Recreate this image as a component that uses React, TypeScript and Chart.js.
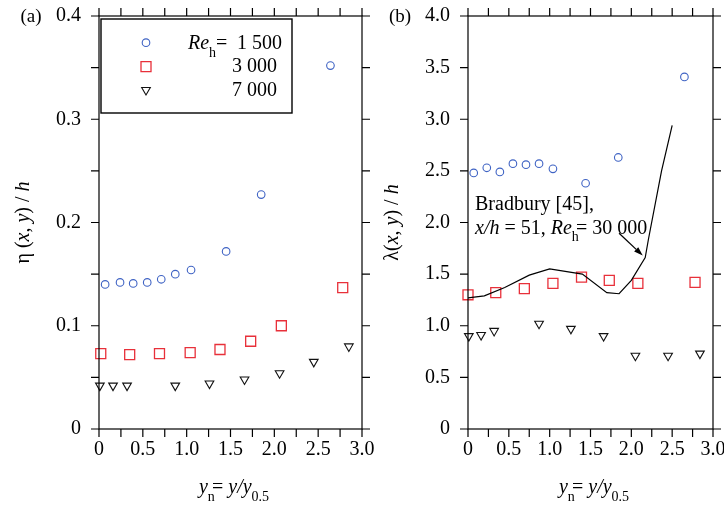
import React, { useEffect, useRef } from 'react';
import { Chart, registerables } from 'chart.js';

Chart.register(...registerables);

const FONT = "'Liberation Serif', 'Times New Roman', Times, serif";
const W = 724;
const H = 510;

// ---- tick labels ----
const xTickLabels = ['0', '0.5', '1.0', '1.5', '2.0', '2.5', '3.0'];
const etaTickLabels = ['0', '0.1', '0.2', '0.3', '0.4'];
const lambdaTickLabels = ['0', '0.5', '1.0', '1.5', '2.0', '2.5', '3.0', '3.5', '4.0'];

// ---- legend ----
const legendValues = ['1 500', '3 000', '7 000'];

// ---- panel (a): eta(x,y)/h ----
const etaRe1500X = [0.07, 0.24, 0.39, 0.55, 0.71, 0.87, 1.05, 1.45, 1.85, 2.64];
const etaRe1500Y = [0.140, 0.142, 0.141, 0.142, 0.145, 0.150, 0.154, 0.172, 0.227, 0.352];
const etaRe3000X = [0.02, 0.35, 0.69, 1.04, 1.38, 1.73, 2.08, 2.78];
const etaRe3000Y = [0.073, 0.072, 0.073, 0.074, 0.077, 0.085, 0.100, 0.137];
const etaRe7000X = [0.01, 0.16, 0.32, 0.87, 1.26, 1.66, 2.06, 2.45, 2.85];
const etaRe7000Y = [0.042, 0.042, 0.042, 0.042, 0.044, 0.048, 0.054, 0.065, 0.080];

// ---- panel (b): lambda(x,y)/h ----
const lamRe1500X = [0.07, 0.23, 0.39, 0.55, 0.71, 0.87, 1.04, 1.44, 1.84, 2.65];
const lamRe1500Y = [2.48, 2.53, 2.49, 2.57, 2.56, 2.57, 2.52, 2.38, 2.63, 3.41];
const lamRe3000X = [0.0, 0.34, 0.69, 1.04, 1.39, 1.73, 2.08, 2.78];
const lamRe3000Y = [1.30, 1.32, 1.36, 1.41, 1.47, 1.44, 1.41, 1.42];
const lamRe7000X = [0.01, 0.16, 0.32, 0.87, 1.26, 1.66, 2.05, 2.45, 2.84];
const lamRe7000Y = [0.90, 0.91, 0.95, 1.02, 0.97, 0.90, 0.71, 0.71, 0.73];
const bradburyX = [0, 0.2, 0.45, 0.75, 1.0, 1.4, 1.7, 1.85, 2.0, 2.17, 2.21, 2.37, 2.5];
const bradburyY = [1.27, 1.29, 1.37, 1.49, 1.55, 1.50, 1.32, 1.31, 1.44, 1.66, 1.84, 2.50, 2.94];

const BLUE = '#3f63c4';
const RED = '#e8303a';
const BLACK = '#111111';

type Seg = { t: string; it?: boolean; sub?: boolean; full?: boolean };

function segFont(s: Seg, size: number) {
  const sz = s.sub ? Math.round(size * 0.7) : size;
  return `${s.it ? 'italic ' : ''}${sz}px ${FONT}`;
}

function drawSegs(ctx: any, segs: Seg[], x: number, y: number, size: number, align: 'left' | 'center' | 'right') {
  const adv = (s: Seg) => {
    ctx.font = segFont(s, size);
    const w = ctx.measureText(s.t).width;
    return s.sub && !s.full ? w * 0.6 : w;
  };
  let total = 0;
  segs.forEach((s) => (total += adv(s)));
  let cx = align === 'center' ? x - total / 2 : align === 'right' ? x - total : x;
  ctx.textAlign = 'left';
  ctx.textBaseline = 'alphabetic';
  segs.forEach((s) => {
    ctx.font = segFont(s, size);
    ctx.fillText(s.t, cx, s.sub ? y + size * 0.38 : y);
    cx += adv(s);
  });
}

function drawMarker(ctx: any, style: string, x: number, y: number, color: string) {
  ctx.save();
  ctx.strokeStyle = color;
  ctx.beginPath();
  if (style === 'circle') {
    ctx.lineWidth = 1.1;
    ctx.arc(x, y, 3.8, 0, Math.PI * 2);
  } else if (style === 'rect') {
    ctx.lineWidth = 1.3;
    ctx.rect(x - 5, y - 5, 10, 10);
  } else {
    ctx.lineWidth = 1.1;
    const r = 5;
    ctx.moveTo(x, y + r);
    ctx.lineTo(x - r * 0.866, y - r / 2);
    ctx.lineTo(x + r * 0.866, y - r / 2);
    ctx.closePath();
  }
  ctx.stroke();
  ctx.restore();
}

const zip = (xs: number[], ys: number[]) => xs.map((x, i) => ({ x, y: ys[i] }));

const circleDs = (xs: number[], ys: number[]) => ({
  data: zip(xs, ys), pointStyle: 'circle', pointRadius: 3.8, pointBorderWidth: 1.1,
  borderColor: BLUE, pointBorderColor: BLUE, backgroundColor: 'rgba(0,0,0,0)', pointBackgroundColor: 'rgba(0,0,0,0)',
  showLine: false, clip: false,
});
const squareDs = (xs: number[], ys: number[]) => ({
  data: zip(xs, ys), pointStyle: 'rect', pointRadius: 7.07, pointBorderWidth: 1.3,
  borderColor: RED, pointBorderColor: RED, backgroundColor: 'rgba(0,0,0,0)', pointBackgroundColor: 'rgba(0,0,0,0)',
  showLine: false, clip: false,
});
const triDs = (xs: number[], ys: number[]) => ({
  data: zip(xs, ys), pointStyle: 'triangle', pointRotation: 180, pointRadius: 5, pointBorderWidth: 1.1,
  borderColor: BLACK, pointBorderColor: BLACK, backgroundColor: 'rgba(0,0,0,0)', pointBackgroundColor: 'rgba(0,0,0,0)',
  showLine: false, clip: false,
});

type Panel = {
  key: string;
  area: { left: number; right: number; top: number; bottom: number };
  yMax: number;
  yStep: number;
  yMinorCount: number;
  yLabels: string[];
  yTitle: Seg[];
  yTitleX: number;
  tag: string;
  tagX: number;
  datasets: any[];
  extra?: (chart: any, ctx: any) => void;
};

const xTitle: Seg[] = [{ t: 'y', it: true }, { t: 'n', sub: true }, { t: '= ' }, { t: 'y/y', it: true }, { t: '0.5', sub: true }];

function makeConfig(p: Panel) {
  const { area } = p;
  const plugin = {
    id: 'decor' + p.key,
    afterDraw(chart: any) {
      const ctx = chart.ctx;
      const { left, right, top, bottom } = chart.chartArea;
      const xs = chart.scales.x;
      const ys = chart.scales.y;
      ctx.save();
      ctx.strokeStyle = '#000';
      ctx.lineWidth = 1.2;
      ctx.strokeRect(left, top, right - left, bottom - top);
      const TL = 8;
      ctx.beginPath();
      for (let i = 0; i <= 12; i++) {
        const px = xs.getPixelForValue(i * 0.25);
        ctx.moveTo(px, bottom); ctx.lineTo(px, bottom + TL);
        ctx.moveTo(px, top); ctx.lineTo(px, top - TL);
      }
      for (let i = 0; i <= p.yMinorCount; i++) {
        const py = ys.getPixelForValue((i * p.yMax) / p.yMinorCount);
        ctx.moveTo(left, py); ctx.lineTo(left - TL, py);
        ctx.moveTo(right, py); ctx.lineTo(right + TL, py);
      }
      ctx.stroke();
      ctx.fillStyle = '#000';
      // x title
      drawSegs(ctx, xTitle, (left + right) / 2, 493, 20, 'center');
      // y title (rotated)
      ctx.save();
      ctx.translate(p.yTitleX, (top + bottom) / 2);
      ctx.rotate(-Math.PI / 2);
      drawSegs(ctx, p.yTitle, 0, 0, 20, 'center');
      ctx.restore();
      // panel tag
      ctx.font = `19px ${FONT}`;
      ctx.textAlign = 'center';
      ctx.textBaseline = 'alphabetic';
      ctx.fillText(p.tag, p.tagX, top + 6);
      if (p.extra) p.extra(chart, ctx);
      ctx.restore();
    },
  };
  return {
    type: 'scatter',
    data: { datasets: p.datasets },
    options: {
      responsive: false,
      animation: false,
      events: [],
      layout: { padding: { left: area.left - 99, right: W - area.right, top: area.top, bottom: 0 } },
      plugins: { legend: { display: false }, tooltip: { enabled: false } },
      scales: {
        x: {
          type: 'linear', min: 0, max: 3,
          grid: { display: false, drawTicks: false }, border: { display: false },
          ticks: {
            stepSize: 0.5, padding: 9, maxRotation: 0, autoSkip: false, color: '#000',
            font: { family: FONT, size: 20 },
            callback: (_v: any, i: number) => xTickLabels[i],
          },
          afterFit: (s: any) => { s.height = H - area.bottom; s.paddingLeft = 0; s.paddingRight = 0; },
        },
        y: {
          type: 'linear', min: 0, max: p.yMax,
          grid: { display: false, drawTicks: false }, border: { display: false },
          ticks: {
            stepSize: p.yStep, padding: 18, autoSkip: false, color: '#000',
            font: { family: FONT, size: 20 },
            callback: (_v: any, i: number) => p.yLabels[i],
          },
          afterFit: (s: any) => { s.width = 99; s.paddingTop = 0; s.paddingBottom = 0; },
        },
      },
    },
    plugins: [plugin],
  };
}

const panelA: Panel = {
  key: 'a',
  area: { left: 99, right: 362, top: 16, bottom: 429 },
  yMax: 0.4, yStep: 0.1, yMinorCount: 8, yLabels: etaTickLabels,
  yTitle: [{ t: 'η (' }, { t: 'x', it: true }, { t: ', ' }, { t: 'y', it: true }, { t: ') / ' }, { t: 'h', it: true }],
  yTitleX: 29,
  tag: '(a)', tagX: 31,
  datasets: [circleDs(etaRe1500X, etaRe1500Y), squareDs(etaRe3000X, etaRe3000Y), triDs(etaRe7000X, etaRe7000Y)],
  extra: (chart: any, ctx: any) => {
    const { left, top } = chart.chartArea;
    const bx = left + 2, by = top + 3, bw = 191, bh = 94;
    ctx.fillStyle = '#fff';
    ctx.fillRect(bx, by, bw, bh);
    ctx.strokeStyle = '#000';
    ctx.lineWidth = 1.4;
    ctx.strokeRect(bx, by, bw, bh);
    const mx = left + 47;
    const rows = [top + 26.7, top + 50.7, top + 74];
    drawMarker(ctx, 'circle', mx, rows[0], BLUE);
    drawMarker(ctx, 'rect', mx, rows[1], RED);
    drawMarker(ctx, 'tri', mx, rows[2], BLACK);
    ctx.fillStyle = '#000';
    const bases = [top + 33.3, top + 55.7, top + 79.5];
    drawSegs(ctx, [{ t: 'Re', it: true }, { t: 'h', sub: true, full: true }, { t: '=' }], left + 89, bases[0], 20, 'left');
    ctx.font = `20px ${FONT}`;
    ctx.textAlign = 'right';
    ctx.fillText(legendValues[0], left + 183, bases[0]);
    ctx.fillText(legendValues[1], left + 178, bases[1]);
    ctx.fillText(legendValues[2], left + 178, bases[2]);
  },
};

const arrowFrom = { x: 1.85, y: 1.895 };
const arrowTo = { x: 2.14, y: 1.68 };
const noteAnchor = { x: 0.086, y1: 2.118, y2: 1.893 };

const panelB: Panel = {
  key: 'b',
  area: { left: 468, right: 713, top: 16, bottom: 429 },
  yMax: 4.0, yStep: 0.5, yMinorCount: 8, yLabels: lambdaTickLabels,
  yTitle: [{ t: 'λ(' }, { t: 'x', it: true }, { t: ', ' }, { t: 'y', it: true }, { t: ') / ' }, { t: 'h', it: true }],
  yTitleX: 398,
  tag: '(b)', tagX: 400,
  datasets: [
    { data: zip(bradburyX, bradburyY), showLine: true, borderColor: '#000', borderWidth: 1.2, pointRadius: 0, tension: 0, fill: false },
    circleDs(lamRe1500X, lamRe1500Y), squareDs(lamRe3000X, lamRe3000Y), triDs(lamRe7000X, lamRe7000Y),
  ],
  extra: (chart: any, ctx: any) => {
    const xs = chart.scales.x, ys = chart.scales.y;
    const tx = xs.getPixelForValue(noteAnchor.x);
    ctx.fillStyle = '#000';
    drawSegs(ctx, [{ t: 'Bradbury [45],' }], tx, ys.getPixelForValue(noteAnchor.y1), 20, 'left');
    drawSegs(ctx, [{ t: 'x/h', it: true }, { t: ' = 51, ' }, { t: 'Re', it: true }, { t: 'h', sub: true }, { t: '= 30 000' }], tx, ys.getPixelForValue(noteAnchor.y2), 20, 'left');
    const x1 = xs.getPixelForValue(arrowFrom.x), y1 = ys.getPixelForValue(arrowFrom.y);
    const x2 = xs.getPixelForValue(arrowTo.x), y2 = ys.getPixelForValue(arrowTo.y);
    const ang = Math.atan2(y2 - y1, x2 - x1);
    const L = 9, hw = 3;
    ctx.strokeStyle = '#000';
    ctx.lineWidth = 1.3;
    ctx.beginPath();
    ctx.moveTo(x1, y1);
    ctx.lineTo(x2 - L * Math.cos(ang), y2 - L * Math.sin(ang));
    ctx.stroke();
    ctx.beginPath();
    ctx.moveTo(x2, y2);
    ctx.lineTo(x2 - L * Math.cos(ang) + hw * Math.sin(ang), y2 - L * Math.sin(ang) - hw * Math.cos(ang));
    ctx.lineTo(x2 - L * Math.cos(ang) - hw * Math.sin(ang), y2 - L * Math.sin(ang) + hw * Math.cos(ang));
    ctx.closePath();
    ctx.fill();
  },
};

function PanelCanvas({ panel }: { panel: Panel }) {
  const ref = useRef<HTMLCanvasElement | null>(null);
  useEffect(() => {
    if (!ref.current) return;
    const chart = new Chart(ref.current, makeConfig(panel) as any);
    return () => chart.destroy();
  }, [panel]);
  return (
    <canvas
      ref={ref}
      width={W}
      height={H}
      style={{ position: 'absolute', left: 0, top: 0, width: W, height: H }}
    />
  );
}

export default function App() {
  return (
    <div style={{ position: 'absolute', left: 0, top: 0, width: W, height: H, background: '#fff' }}>
      <PanelCanvas panel={panelA} />
      <PanelCanvas panel={panelB} />
    </div>
  );
}
